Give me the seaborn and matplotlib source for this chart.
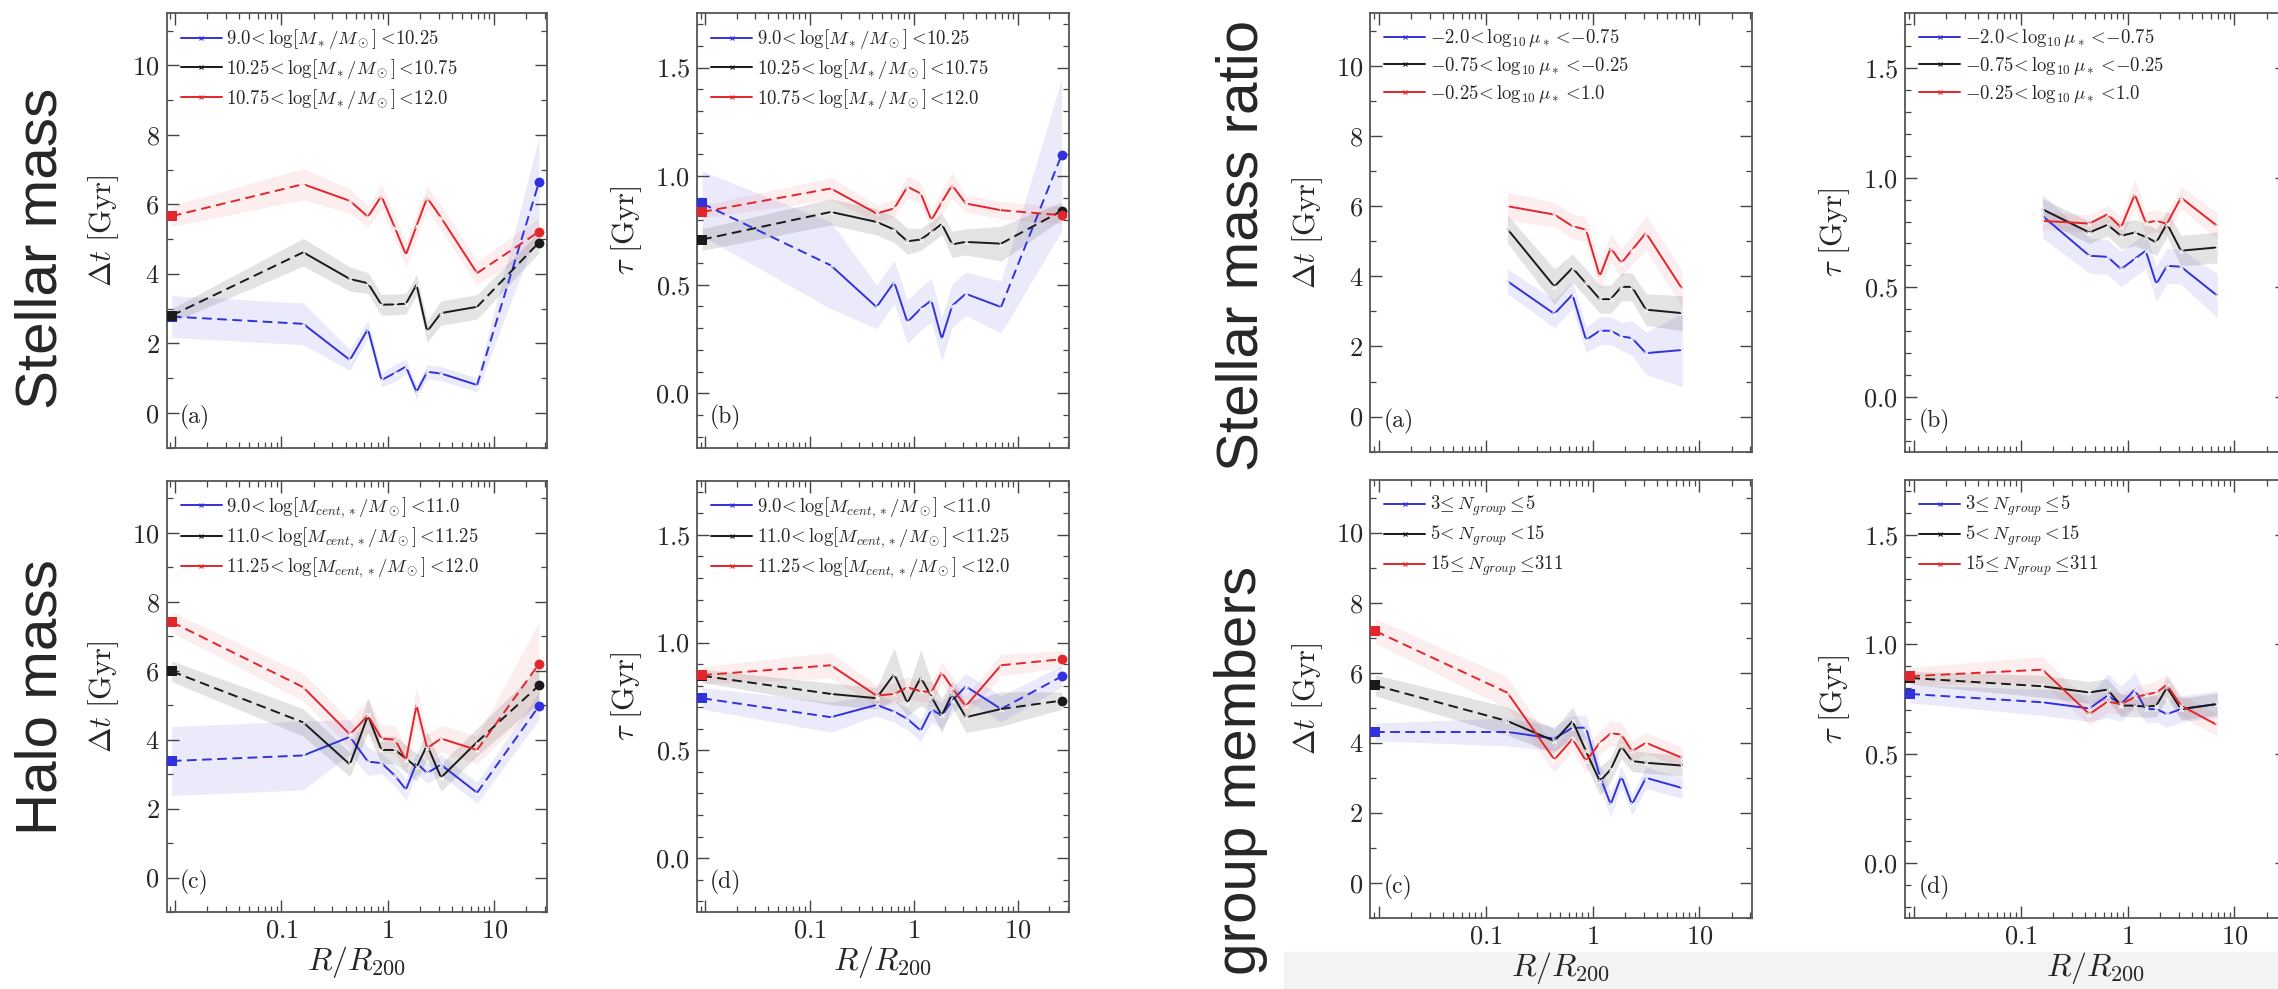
import numpy as np
import matplotlib
matplotlib.use("Agg")
import matplotlib.pyplot as plt
import seaborn as sns
from matplotlib.lines import Line2D
from matplotlib.patches import Rectangle
from matplotlib.ticker import (FixedLocator, FixedFormatter, MultipleLocator,
                               LogLocator, NullFormatter, FuncFormatter)

sns.set_style("ticks")
plt.rcParams["font.family"] = "serif"
plt.rcParams["font.serif"] = ["cmr10", "DejaVu Serif"]
plt.rcParams["mathtext.fontset"] = "cm"
plt.rcParams["axes.unicode_minus"] = False
plt.rcParams["axes.formatter.use_mathtext"] = True

nan = np.nan

# radial bins R/R200 (first = centrals, last = field)
r_bins = [0.0093, 0.16, 0.44, 0.65, 0.87, 1.17, 1.48, 1.86, 2.34, 3.16, 6.9, 26.3]

# ---- stellar mass split, delta t ----
smass_dt_blue = [2.77, 2.56, 1.52, 2.41, 0.94, 1.15, 1.33, 0.60, 1.18, 1.13, 0.80, 6.63]
smass_dt_black = [2.80, 4.62, 3.85, 3.73, 3.11, 3.12, 3.14, 3.69, 2.34, 2.87, 3.05, 4.90]
smass_dt_red = [5.66, 6.58, 6.10, 5.64, 6.24, 5.31, 4.55, 5.38, 6.19, 5.62, 4.02, 5.21]
smass_dt_blue_err = [0.6, 0.6, 0.3, 0.25, 0.2, 0.25, 0.2, 0.2, 0.2, 0.2, 0.2, 1.3]
smass_dt_black_err = [0.2, 0.4, 0.35, 0.3, 0.3, 0.3, 0.3, 0.3, 0.3, 0.35, 0.35, 0.3]
smass_dt_red_err = [0.3, 0.45, 0.35, 0.3, 0.35, 0.35, 0.35, 0.35, 0.35, 0.35, 0.35, 0.4]

# ---- stellar mass split, tau ----
smass_tau_blue = [0.874, 0.589, 0.397, 0.512, 0.328, 0.39, 0.428, 0.25, 0.403, 0.458, 0.397, 1.097]
smass_tau_black = [0.708, 0.835, 0.789, 0.754, 0.70, 0.708, 0.743, 0.78, 0.686, 0.697, 0.689, 0.84]
smass_tau_red = [0.835, 0.943, 0.828, 0.851, 0.951, 0.92, 0.797, 0.88, 0.958, 0.874, 0.843, 0.82]
smass_tau_blue_err = [0.15, 0.2, 0.1, 0.1, 0.1, 0.1, 0.1, 0.1, 0.1, 0.1, 0.12, 0.35]
smass_tau_black_err = [0.05, 0.06, 0.06, 0.06, 0.06, 0.05, 0.05, 0.05, 0.06, 0.06, 0.08, 0.04]
smass_tau_red_err = [0.03, 0.05, 0.04, 0.04, 0.05, 0.05, 0.05, 0.05, 0.06, 0.04, 0.04, 0.04]

# ---- halo (central stellar) mass split, delta t ----
halo_dt_blue = [3.38, 3.54, 4.08, 3.36, 3.32, 2.95, 2.55, 3.32, 3.03, 3.27, 2.46, 4.97]
halo_dt_black = [5.98, 4.50, 3.28, 4.70, 3.70, 3.70, 3.45, 3.20, 3.84, 2.90, 3.93, 5.57]
halo_dt_red = [7.41, 5.52, 4.15, 4.70, 4.03, 4.00, 3.40, 5.00, 3.75, 4.03, 3.70, 6.19]
halo_dt_blue_err = [1.0, 1.0, 0.5, 0.4, 0.3, 0.3, 0.3, 0.3, 0.3, 0.3, 0.3, 0.4]
halo_dt_black_err = [0.3, 0.4, 0.35, 0.5, 0.4, 0.4, 0.4, 0.4, 0.4, 0.4, 0.4, 0.5]
halo_dt_red_err = [0.3, 0.4, 0.4, 0.5, 0.4, 0.4, 0.4, 0.5, 0.4, 0.4, 0.4, 1.2]

# ---- halo mass split, tau ----
halo_tau_blue = [0.742, 0.654, 0.711, 0.68, 0.646, 0.592, 0.69, 0.662, 0.73, 0.797, 0.692, 0.843]
halo_tau_black = [0.846, 0.762, 0.742, 0.854, 0.72, 0.838, 0.75, 0.662, 0.762, 0.654, 0.692, 0.731]
halo_tau_red = [0.849, 0.895, 0.754, 0.762, 0.792, 0.775, 0.77, 0.862, 0.79, 0.705, 0.895, 0.923]
halo_tau_blue_err = [0.05, 0.07, 0.05, 0.05, 0.05, 0.05, 0.06, 0.06, 0.06, 0.06, 0.06, 0.05]
halo_tau_black_err = [0.03, 0.05, 0.05, 0.12, 0.06, 0.13, 0.07, 0.08, 0.06, 0.07, 0.08, 0.04]
halo_tau_red_err = [0.04, 0.06, 0.05, 0.05, 0.05, 0.05, 0.05, 0.05, 0.05, 0.05, 0.05, 0.04]

# ---- stellar mass ratio split, delta t ----
ratio_dt_blue = [nan, 3.86, 2.93, 3.48, 2.19, 2.45, 2.45, 2.29, 2.24, 1.81, 1.90, nan]
ratio_dt_black = [nan, 5.35, 3.71, 4.24, 3.80, 3.35, 3.35, 3.70, 3.70, 3.05, 2.95, nan]
ratio_dt_red = [nan, 6.00, 5.76, 5.43, 5.33, 4.00, 4.81, 4.38, 4.75, 5.24, 3.64, nan]
ratio_dt_blue_err = [nan, 0.35, 0.4, 0.4, 0.35, 0.4, 0.4, 0.4, 0.5, 0.6, 1.05, nan]
ratio_dt_black_err = [nan, 0.4, 0.5, 0.4, 0.4, 0.4, 0.4, 0.4, 0.4, 0.45, 0.5, nan]
ratio_dt_red_err = [nan, 0.4, 0.35, 0.35, 0.35, 0.4, 0.4, 0.4, 0.4, 0.5, 0.5, nan]

# ---- stellar mass ratio split, tau ----
ratio_tau_blue = [nan, 0.826, 0.644, 0.639, 0.583, 0.63, 0.667, 0.515, 0.598, 0.594, 0.462, nan]
ratio_tau_black = [nan, 0.856, 0.75, 0.785, 0.735, 0.75, 0.73, 0.705, 0.791, 0.667, 0.682, nan]
ratio_tau_red = [nan, 0.803, 0.791, 0.833, 0.773, 0.924, 0.795, 0.803, 0.79, 0.909, 0.78, nan]
ratio_tau_blue_err = [nan, 0.1, 0.08, 0.08, 0.08, 0.08, 0.08, 0.08, 0.08, 0.08, 0.1, nan]
ratio_tau_black_err = [nan, 0.05, 0.05, 0.05, 0.06, 0.06, 0.06, 0.06, 0.06, 0.07, 0.07, nan]
ratio_tau_red_err = [nan, 0.04, 0.04, 0.04, 0.05, 0.07, 0.05, 0.05, 0.05, 0.05, 0.06, nan]

# ---- group members split, delta t ----
ngroup_dt_blue = [4.31, 4.31, 4.12, 4.43, 4.43, 3.05, 2.24, 3.05, 2.24, 3.00, 2.71, nan]
ngroup_dt_black = [5.64, 4.62, 4.05, 4.62, 3.76, 2.90, 3.24, 3.90, 3.48, 3.43, 3.35, nan]
ngroup_dt_red = [7.19, 5.43, 3.52, 4.11, 3.48, 4.00, 4.27, 4.24, 3.76, 4.00, 3.57, nan]
ngroup_dt_blue_err = [0.25, 0.4, 0.35, 0.35, 0.35, 0.35, 0.35, 0.3, 0.3, 0.3, 0.3, nan]
ngroup_dt_black_err = [0.3, 0.4, 0.35, 0.4, 0.4, 0.4, 0.35, 0.35, 0.3, 0.3, 0.3, nan]
ngroup_dt_red_err = [0.35, 0.45, 0.35, 0.35, 0.35, 0.35, 0.35, 0.35, 0.3, 0.3, 0.3, nan]

# ---- group members split, tau ----
ngroup_tau_blue = [0.773, 0.735, 0.707, 0.765, 0.727, 0.793, 0.704, 0.704, 0.681, 0.704, 0.727, nan]
ngroup_tau_black = [0.846, 0.808, 0.78, 0.793, 0.72, 0.72, 0.715, 0.72, 0.803, 0.704, 0.727, nan]
ngroup_tau_red = [0.854, 0.884, 0.681, 0.738, 0.727, 0.758, 0.77, 0.78, 0.814, 0.72, 0.631, nan]
ngroup_tau_blue_err = [0.04, 0.06, 0.06, 0.1, 0.08, 0.08, 0.06, 0.06, 0.06, 0.06, 0.06, nan]
ngroup_tau_black_err = [0.03, 0.05, 0.05, 0.05, 0.05, 0.05, 0.05, 0.05, 0.05, 0.05, 0.05, nan]
ngroup_tau_red_err = [0.04, 0.06, 0.05, 0.05, 0.05, 0.05, 0.05, 0.05, 0.05, 0.05, 0.05, nan]

smass_labels = [r"$9.0\!<\log[M_*/M_\odot]<\!10.25$",
                r"$10.25\!<\log[M_*/M_\odot]<\!10.75$",
                r"$10.75\!<\log[M_*/M_\odot]<\!12.0$"]
halo_labels = [r"$9.0\!<\log[M_{cent,*}/M_\odot]<\!11.0$",
               r"$11.0\!<\log[M_{cent,*}/M_\odot]<\!11.25$",
               r"$11.25\!<\log[M_{cent,*}/M_\odot]<\!12.0$"]
ratio_labels = [r"${-2.0}\!<\log_{10}\mu_*<\!{-0.75}$",
                r"${-0.75}\!<\log_{10}\mu_*<\!{-0.25}$",
                r"${-0.25}\!<\log_{10}\mu_*<\!1.0$"]
ngroup_labels = [r"$3\!\leq N_{group}\leq\!5$",
                 r"$5\!< N_{group}<\!15$",
                 r"$15\!\leq N_{group}\leq\!311$"]

colors = ["#3232dc", "#1a1a1a", "#e2262c"]
fill_alpha = [0.10, 0.12, 0.08]

W, H = 2278, 989
fig = plt.figure(figsize=(W / 100, H / 100), dpi=100)
fig.patches.append(Rectangle((1284 / W, 0), 1 - 1284 / W, 37 / H,
                             transform=fig.transFigure, color="#f3f3f3", zorder=-5))

# column (left px, width px) and row (top px, bottom px) geometry
cols = [(166.5, 380), (697, 372), (1370, 382), (1905, 382)]
rows_left = [(13.3, 447.5), (481, 912)]
rows_right = [(13.3, 451.7), (480, 918)]

panels = [
    (0, 0, "dt", "(a)", smass_labels,
     [(smass_dt_blue, smass_dt_blue_err), (smass_dt_black, smass_dt_black_err), (smass_dt_red, smass_dt_red_err)]),
    (1, 0, "tau", "(b)", smass_labels,
     [(smass_tau_blue, smass_tau_blue_err), (smass_tau_black, smass_tau_black_err), (smass_tau_red, smass_tau_red_err)]),
    (0, 1, "dt", "(c)", halo_labels,
     [(halo_dt_blue, halo_dt_blue_err), (halo_dt_black, halo_dt_black_err), (halo_dt_red, halo_dt_red_err)]),
    (1, 1, "tau", "(d)", halo_labels,
     [(halo_tau_blue, halo_tau_blue_err), (halo_tau_black, halo_tau_black_err), (halo_tau_red, halo_tau_red_err)]),
    (2, 0, "dt", "(a)", ratio_labels,
     [(ratio_dt_blue, ratio_dt_blue_err), (ratio_dt_black, ratio_dt_black_err), (ratio_dt_red, ratio_dt_red_err)]),
    (3, 0, "tau", "(b)", ratio_labels,
     [(ratio_tau_blue, ratio_tau_blue_err), (ratio_tau_black, ratio_tau_black_err), (ratio_tau_red, ratio_tau_red_err)]),
    (2, 1, "dt", "(c)", ngroup_labels,
     [(ngroup_dt_blue, ngroup_dt_blue_err), (ngroup_dt_black, ngroup_dt_black_err), (ngroup_dt_red, ngroup_dt_red_err)]),
    (3, 1, "tau", "(d)", ngroup_labels,
     [(ngroup_tau_blue, ngroup_tau_blue_err), (ngroup_tau_black, ngroup_tau_black_err), (ngroup_tau_red, ngroup_tau_red_err)]),
]

x = np.array(r_bins)
dash = (5, 2.8)

for col, row, kind, letter, labels, series in panels:
    left, width = cols[col]
    top, bottom = (rows_left if col < 2 else rows_right)[row]
    ax = fig.add_axes([left / W, 1 - bottom / H, width / W, (bottom - top) / H])
    ax.set_xscale("log")

    for (vals, errs), c, fa in zip(series, colors, fill_alpha):
        y = np.array(vals, dtype=float)
        e = np.array(errs, dtype=float)
        ok = ~np.isnan(y)
        ax.fill_between(x[ok], (y - e)[ok], (y + e)[ok], color=c, alpha=fa, lw=0, zorder=1)
        sns.lineplot(x=x[1:11], y=y[1:11], color=c, lw=1.4, marker="x", ms=3.5, mew=0.8,
                     estimator=None, errorbar=None, sort=False, ax=ax, zorder=3)
        if ok[0]:
            sns.lineplot(x=x[0:2], y=y[0:2], color=c, lw=1.4, dashes=dash,
                         estimator=None, errorbar=None, sort=False, ax=ax, zorder=3)
            sns.scatterplot(x=x[0:1], y=y[0:1], color=c, marker="s", s=45, linewidth=0,
                            ax=ax, zorder=4)
        if ok[-1]:
            sns.lineplot(x=x[10:12], y=y[10:12], color=c, lw=1.4, dashes=dash,
                         estimator=None, errorbar=None, sort=False, ax=ax, zorder=3)
            sns.scatterplot(x=x[11:12], y=y[11:12], color=c, marker="o", s=50, linewidth=0,
                            ax=ax, zorder=4)

    ax.set_xlim(0.0083, 31)
    ax.xaxis.set_major_locator(FixedLocator([0.01, 0.1, 1, 10]))
    ax.xaxis.set_major_formatter(FixedFormatter(["", "$0.1$", "$1$", "$10$"]))
    ax.xaxis.set_minor_locator(LogLocator(base=10, subs=np.arange(2, 10) * 1.0, numticks=30))
    ax.xaxis.set_minor_formatter(NullFormatter())

    if kind == "dt":
        ax.set_ylim(-1, 11.5)
        ax.yaxis.set_major_locator(MultipleLocator(2))
        ax.yaxis.set_minor_locator(MultipleLocator(1))
        ax.yaxis.set_major_formatter(FuncFormatter(lambda v, p: f"${v:.0f}$"))
        ax.set_ylabel(r"$\Delta t\ [\mathrm{Gyr}]$", fontsize=22, labelpad=8)
    else:
        ax.set_ylim(-0.25, 1.75)
        ax.yaxis.set_major_locator(MultipleLocator(0.5))
        ax.yaxis.set_minor_locator(MultipleLocator(0.1))
        ax.yaxis.set_major_formatter(FuncFormatter(lambda v, p: f"${v:.1f}$"))
        ax.set_ylabel(r"$\tau\ [\mathrm{Gyr}]$", fontsize=22, labelpad=8)

    ax.tick_params(which="both", direction="in", top=True, right=True, color="#444444")
    ax.tick_params(which="major", length=8.5, width=1.0, labelsize=19, pad=5)
    ax.tick_params(which="minor", length=4.5, width=0.9)
    for sp in ax.spines.values():
        sp.set_color("#555555")
        sp.set_linewidth(1.3)

    if row == 0:
        ax.tick_params(labelbottom=False)
        ax.set_xlabel("")
    else:
        ax.set_xlabel(r"$R/R_{200}$", fontsize=23, labelpad=1)

    handles = [Line2D([], [], color=c, lw=1.4, marker="x", ms=3.5, mew=0.8) for c in colors]
    ax.legend(handles, labels, loc="upper left", frameon=False, fontsize=13.5, numpoints=1,
              handlelength=2.2, handletextpad=0.25, labelspacing=0.3,
              borderaxespad=0.4, borderpad=0.35)
    ax.text(0.035, 0.04, letter, transform=ax.transAxes, fontsize=17, ha="left", va="bottom")

row_font = dict(fontsize=42, rotation=90, ha="center", va="center",
                family=["Liberation Sans", "DejaVu Sans"])
fig.text(42 / W, 1 - 248 / H, "Stellar mass", **row_font)
fig.text(42 / W, 1 - 697 / H, "Halo mass", **row_font)
fig.text(1243 / W, 1 - 245 / H, "Stellar mass ratio", **row_font)
fig.text(1241 / W, 1 - 770 / H, "group members", **row_font)

fig.savefig("out.png", dpi=100)
